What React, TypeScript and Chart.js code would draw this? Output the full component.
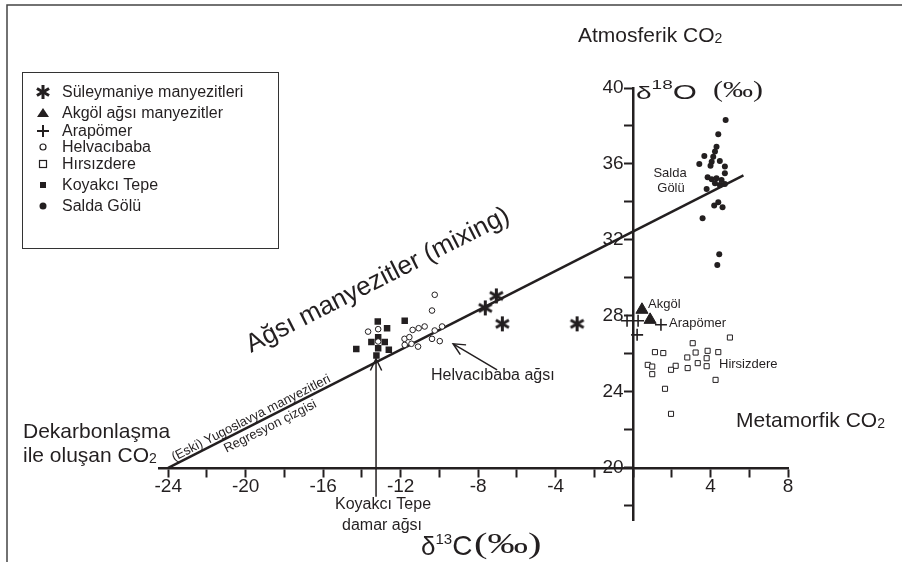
import React, { useEffect, useRef } from "react";
import { Chart, registerables } from "chart.js";

Chart.register(...registerables);

// ---------- axis ticks ----------
const xTicks = [-24, -22, -20, -18, -16, -14, -12, -10, -8, -6, -4, -2, 0, 2, 4, 6, 8];
const xLabeled = [-24, -20, -16, -12, -8, -4, 4, 8];
const yTicks = [18, 20, 22, 24, 26, 28, 30, 32, 34, 36, 38, 40];
const yLabeled = [20, 24, 28, 32, 36, 40];

// ---------- series (δ13C, δ18O) ----------
const suleymaniyeX = [-7.63, -7.06, -6.75, -2.89];
const suleymaniyeY = [28.42, 29.05, 27.58, 27.58];

const akgolX = [0.46, 0.88];
const akgolY = [28.32, 27.79];

const arapomerX = [-0.31, 0.26, 0.21, 1.44];
const arapomerY = [27.74, 27.74, 27.0, 27.53];

const helvacibabaX = [-10.24, -10.38, -13.68, -13.16, -13.16, -11.8, -11.55, -11.38, -11.07, -10.76, -11.79, -11.44, -11.1, -10.24, -9.86, -10.38, -9.98];
const helvacibabaY = [29.11, 28.28, 27.17, 27.3, 26.65, 26.79, 26.88, 27.26, 27.35, 27.44, 26.47, 26.53, 26.38, 27.23, 27.44, 26.79, 26.67];

const hirsizdereX = [3.08, 5.0, 1.13, 1.56, 3.23, 3.85, 4.4, 2.8, 3.8, 0.76, 0.99, 2.2, 1.96, 3.34, 3.8, 2.82, 0.99, 4.26, 1.65, 1.96];
const hirsizdereY = [26.56, 26.86, 26.09, 26.04, 26.07, 26.16, 26.09, 25.81, 25.77, 25.42, 25.33, 25.37, 25.16, 25.51, 25.35, 25.25, 24.93, 24.63, 24.16, 22.84];

const koyakciX = [-13.18, -12.7, -11.79, -14.29, -13.51, -13.16, -12.82, -13.16, -12.61, -13.25];
const koyakciY = [27.7, 27.35, 27.74, 26.26, 26.62, 26.88, 26.62, 26.3, 26.21, 25.91];

const saldaX = [4.78, 4.4, 4.31, 4.23, 4.14, 4.06, 4.0, 3.68, 3.42, 4.48, 4.74, 4.74, 3.85, 4.06, 4.31, 4.57, 4.23, 4.48, 4.74, 3.8, 4.4, 4.19, 4.62, 3.59, 4.45, 4.35];
const saldaY = [38.32, 37.56, 36.91, 36.65, 36.38, 36.12, 35.9, 36.42, 36.0, 36.16, 35.86, 35.51, 35.3, 35.19, 35.25, 35.16, 34.98, 34.89, 34.95, 34.68, 33.98, 33.81, 33.72, 33.14, 31.25, 30.68];

// regression line end points
const regressionX = [-24, 5.7];
const regressionY = [20, 35.4];

const INK = "#231f20";
const SANS = "'Liberation Sans', Arial, sans-serif";
const SERIF = "'Liberation Serif', 'Times New Roman', serif";

const pts = (xs: number[], ys: number[]) => xs.map((x, i) => ({ x, y: ys[i] }));

function makeAsterisk(size: number, lw: number): HTMLCanvasElement {
  const c = document.createElement("canvas");
  c.width = size;
  c.height = size;
  const g = c.getContext("2d")!;
  const r = size / 2 - 1;
  g.strokeStyle = INK;
  g.lineWidth = lw;
  g.lineCap = "butt";
  for (const a of [90, 30, -30]) {
    const rad = (a * Math.PI) / 180;
    g.beginPath();
    g.moveTo(size / 2 - r * Math.cos(rad), size / 2 - r * Math.sin(rad));
    g.lineTo(size / 2 + r * Math.cos(rad), size / 2 + r * Math.sin(rad));
    g.stroke();
  }
  return c;
}

type Part = { t: string; f: string; dy?: number };
function drawRich(ctx: CanvasRenderingContext2D, parts: Part[], x: number, y: number) {
  let cx = x;
  ctx.textBaseline = "alphabetic";
  ctx.textAlign = "left";
  for (const p of parts) {
    ctx.font = p.f;
    ctx.fillText(p.t, cx, y + (p.dy || 0));
    cx += ctx.measureText(p.t).width;
  }
}

function arrow(ctx: CanvasRenderingContext2D, x1: number, y1: number, x2: number, y2: number) {
  const a = Math.atan2(y2 - y1, x2 - x1);
  const L = 13;
  const w = 0.45;
  ctx.beginPath();
  ctx.moveTo(x1, y1);
  ctx.lineTo(x2, y2);
  ctx.stroke();
  ctx.beginPath();
  ctx.moveTo(x2 - L * Math.cos(a - w), y2 - L * Math.sin(a - w));
  ctx.lineTo(x2, y2);
  ctx.lineTo(x2 - L * Math.cos(a + w), y2 - L * Math.sin(a + w));
  ctx.stroke();
}

export default function App() {
  const ref = useRef<HTMLCanvasElement | null>(null);

  useEffect(() => {
    const canvas = ref.current;
    if (!canvas) return;
    const star = makeAsterisk(17, 3);
    const legendStar = makeAsterisk(16, 3);

    const annotations = {
      id: "annotations",
      afterDraw(chart: any) {
        const ctx: CanvasRenderingContext2D = chart.ctx;
        const xs = chart.scales.x;
        const ys = chart.scales.y;
        const px = (v: number) => xs.getPixelForValue(v);
        const py = (v: number) => ys.getPixelForValue(v);
        ctx.save();
        ctx.fillStyle = INK;
        ctx.strokeStyle = INK;

        // outer frame (left & top visible)
        ctx.lineWidth = 1.5;
        ctx.strokeStyle = "#444";
        ctx.strokeRect(7, 5, 1000, 1000);

        // legend box
        ctx.lineWidth = 1;
        ctx.strokeStyle = "#333";
        ctx.strokeRect(22.5, 72.5, 256, 176);
        ctx.strokeStyle = INK;
        const lx = 43;
        const legendRows: [string, number][] = [
          ["Süleymaniye manyezitleri", 92],
          ["Akgöl ağsı manyezitler", 113],
          ["Arapömer", 131],
          ["Helvacıbaba", 147],
          ["Hırsızdere", 164],
          ["Koyakcı Tepe", 185],
          ["Salda Gölü", 206],
        ];
        ctx.font = `16px ${SANS}`;
        ctx.textBaseline = "middle";
        ctx.textAlign = "left";
        legendRows.forEach(([t, yy]) => ctx.fillText(t, 62, yy + 1));
        ctx.drawImage(legendStar, lx - 8, 92 - 8);
        ctx.beginPath();
        ctx.moveTo(lx - 6, 117);
        ctx.lineTo(lx + 6, 117);
        ctx.lineTo(lx, 108);
        ctx.closePath();
        ctx.fill();
        ctx.lineWidth = 2;
        ctx.beginPath();
        ctx.moveTo(lx - 6, 131);
        ctx.lineTo(lx + 6, 131);
        ctx.moveTo(lx, 125);
        ctx.lineTo(lx, 137);
        ctx.stroke();
        ctx.lineWidth = 1.2;
        ctx.beginPath();
        ctx.arc(lx, 147, 3, 0, Math.PI * 2);
        ctx.stroke();
        ctx.strokeRect(lx - 3.5, 160.5, 7, 7);
        ctx.fillRect(lx - 3, 182, 6, 6);
        ctx.beginPath();
        ctx.arc(lx, 206, 3.5, 0, Math.PI * 2);
        ctx.fill();

        // big labels
        const big = `21px ${SANS}`;
        const sub = `14px ${SANS}`;
        drawRich(ctx, [{ t: "Atmosferik CO", f: big }, { t: "2", f: sub, dy: 1 }], 578, 42);
        drawRich(ctx, [{ t: "Metamorfik CO", f: big }, { t: "2", f: sub, dy: 1 }], 736, 427);
        drawRich(ctx, [{ t: "Dekarbonlaşma", f: big }], 23, 438);
        drawRich(ctx, [{ t: "ile oluşan CO", f: big }, { t: "2", f: sub, dy: 1 }], 23, 462);

        // small labels
        ctx.font = `13px ${SANS}`;
        ctx.textBaseline = "middle";
        ctx.textAlign = "center";
        ctx.fillText("Salda", 670, 173);
        ctx.fillText("Gölü", 671, 188);
        ctx.textAlign = "left";
        ctx.fillText("Akgöl", 648, 304);
        ctx.fillText("Arapömer", 669, 323);
        ctx.fillText("Hirsizdere", 719, 364);
        ctx.font = `16px ${SANS}`;
        ctx.fillText("Helvacıbaba ağsı", 431, 376);
        ctx.fillText("Koyakcı Tepe", 335, 505);
        ctx.fillText("damar ağsı", 342, 526);

        // arrows
        ctx.lineWidth = 1.5;
        arrow(ctx, px(-13.27), py(18.47), px(-13.27), py(25.74));
        arrow(ctx, px(-7.02), py(25.16), px(-9.29), py(26.53));

        // rotated texts along the regression line
        const p1x = px(regressionX[0]);
        const p1y = py(regressionY[0]);
        const p2x = px(regressionX[1]);
        const p2y = py(regressionY[1]);
        const ang = Math.atan2(p2y - p1y, p2x - p1x);
        const slope = (regressionY[1] - regressionY[0]) / (regressionX[1] - regressionX[0]);
        const onLine = (xv: number) => [px(xv), py(regressionY[0] + slope * (xv - regressionX[0]))];
        const nx = Math.sin(ang);
        const ny = -Math.cos(ang);
        const along = (xv: number, off: number, text: string, font: string, base: CanvasTextBaseline) => {
          const [bx, by] = onLine(xv);
          ctx.save();
          ctx.translate(bx + nx * off, by + ny * off);
          ctx.rotate(ang);
          ctx.font = font;
          ctx.textAlign = "left";
          ctx.textBaseline = base;
          ctx.fillText(text, 0, 0);
          ctx.restore();
        };
        along(-23.62, 3, "(Eski) Yugoslavya manyezitleri", `13px ${SANS}`, "alphabetic");
        along(-21.3, -3, "Regresyon çizgisi", `13px ${SANS}`, "top");
        ctx.save();
        ctx.translate(px(-19.72), py(26.05));
        ctx.rotate(ang);
        ctx.font = `26px ${SANS}`;
        ctx.textAlign = "left";
        ctx.textBaseline = "alphabetic";
        ctx.fillText("Ağsı manyezitler (mixing)", 0, 0);
        ctx.restore();

        // axis titles
        drawRich(
          ctx,
          [
            { t: "δ", f: `26px ${SANS}` },
            { t: "13", f: `15px ${SANS}`, dy: -11 },
            { t: "C", f: `28px ${SANS}` },
          ],
          421,
          555
        );
        ctx.save();
        ctx.translate(474, 553);
        ctx.scale(1.35, 1);
        drawRich(ctx, [{ t: "(‰)", f: `30px ${SERIF}` }], 0, 0);
        ctx.restore();

        ctx.save();
        ctx.translate(636, 99);
        ctx.scale(1, 0.68);
        drawRich(
          ctx,
          [
            { t: "δ", f: `28px ${SANS}` },
            { t: "18", f: `19px ${SANS}`, dy: -14 },
            { t: "O", f: `31px ${SANS}` },
          ],
          0,
          0
        );
        ctx.restore();
        ctx.save();
        ctx.translate(713, 97);
        ctx.scale(1, 0.8);
        drawRich(ctx, [{ t: "(‰)", f: `30px ${SERIF}` }], 0, 0);
        ctx.restore();

        ctx.restore();
      },
    };

    const chart = new Chart(canvas, {
      type: "scatter",
      data: {
        datasets: [
          {
            label: "Süleymaniye manyezitleri",
            data: pts(suleymaniyeX, suleymaniyeY),
            pointStyle: star as any,
            pointRadius: 8,
          },
          {
            label: "Akgöl ağsı manyezitler",
            data: pts(akgolX, akgolY),
            pointStyle: "triangle",
            pointRadius: 7,
            backgroundColor: INK,
            borderColor: INK,
            borderWidth: 1,
          },
          {
            label: "Arapömer",
            data: pts(arapomerX, arapomerY),
            pointStyle: "cross",
            pointRadius: 6,
            borderColor: INK,
            borderWidth: 1.6,
          },
          {
            label: "Helvacıbaba",
            data: pts(helvacibabaX, helvacibabaY),
            pointStyle: "circle",
            pointRadius: 2.8,
            backgroundColor: "#ffffff",
            borderColor: INK,
            borderWidth: 1,
          },
          {
            label: "Hırsızdere",
            data: pts(hirsizdereX, hirsizdereY),
            pointStyle: "rect",
            pointRadius: 3.6,
            backgroundColor: "#ffffff",
            borderColor: INK,
            borderWidth: 1,
          },
          {
            label: "Koyakcı Tepe",
            data: pts(koyakciX, koyakciY),
            pointStyle: "rect",
            pointRadius: 4.6,
            backgroundColor: INK,
            borderColor: INK,
            borderWidth: 0,
          },
          {
            label: "Salda Gölü",
            data: pts(saldaX, saldaY),
            pointStyle: "circle",
            pointRadius: 3,
            backgroundColor: INK,
            borderColor: INK,
            borderWidth: 0,
          },
          {
            type: "line" as any,
            label: "Regresyon",
            data: pts(regressionX, regressionY),
            showLine: true,
            borderColor: INK,
            borderWidth: 2.5,
            pointRadius: 0,
            fill: false,
          } as any,
        ],
      },
      options: {
        animation: false,
        responsive: false,
        maintainAspectRatio: false,
        layout: { padding: { left: 159.5, top: 88, right: 114, bottom: 42 } },
        plugins: { legend: { display: false }, tooltip: { enabled: false } },
        scales: {
          x: {
            type: "linear",
            axis: "x",
            min: -24.45,
            max: 8,
            position: { y: 20 } as any,
            afterBuildTicks: (s: any) => {
              s.ticks = xTicks.map((v) => ({ value: v }));
            },
            ticks: {
              autoSkip: false,
              maxRotation: 0,
              padding: 0,
              color: INK,
              font: { family: SANS, size: 19 },
              callback: (v: any) => (xLabeled.includes(Number(v)) ? String(v) : ""),
            },
            grid: { drawOnChartArea: false, drawTicks: true, tickLength: 8, tickWidth: 2, tickColor: INK },
            border: { display: true, color: INK, width: 2.5 },
          } as any,
          y: {
            type: "linear",
            axis: "y",
            min: 17.25,
            max: 40,
            position: { x: 0 } as any,
            afterBuildTicks: (s: any) => {
              s.ticks = yTicks.map((v) => ({ value: v }));
            },
            ticks: {
              autoSkip: false,
              padding: 1,
              color: INK,
              font: { family: SANS, size: 19 },
              // label sits just left of the tick mark (en space keeps it off the axis)
              callback: (v: any) => (yLabeled.includes(Number(v)) ? String(v) + "\u2002" : ""),
            },
            grid: { drawOnChartArea: false, drawTicks: true, tickLength: 8, tickWidth: 2, tickColor: INK },
            border: { display: true, color: INK, width: 2.5 },
          } as any,
        },
      },
      plugins: [annotations],
    });
    return () => chart.destroy();
  }, []);

  return (
    <div style={{ position: "fixed", left: 0, top: 0, width: 902, height: 562, background: "#fff", overflow: "hidden" }}>
      <canvas ref={ref} width={902} height={562} style={{ width: 902, height: 562, display: "block" }} />
    </div>
  );
}
